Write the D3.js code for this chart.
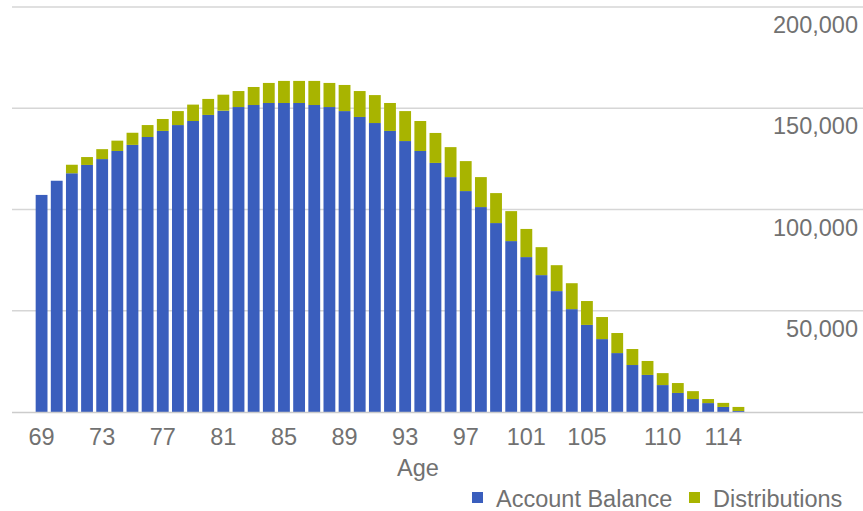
<!DOCTYPE html>
<html>
<head>
<meta charset="utf-8">
<script src="https://cdn.jsdelivr.net/npm/d3@7"></script>
<style>
  body { margin: 0; background: #fff; }
  text { font-family: "Liberation Sans", Arial, sans-serif; }
</style>
</head>
<body>
<div id="chart"></div>
<script>
var ages = d3.range(69, 116);
var balance = [107200, 114200, 117900, 122000, 124900, 128900, 131900, 135800, 138800, 141700,
  143700, 146700, 148800, 150600, 151600, 152600, 152600, 152600, 151600, 150600,
  148600, 145700, 142700, 138800, 133800, 128900, 123000, 116000, 109100, 101200,
  93300, 84400, 76500, 67600, 59700, 50800, 43000, 36000, 29100, 23200,
  18300, 13300, 9400, 6400, 4400, 2500, 500];
var distributions = [0, 0, 4200, 3900, 4900, 5100, 6000, 5900, 5900, 6900,
  8100, 7900, 7900, 7900, 8900, 9900, 10900, 10900, 11900, 11900,
  12900, 12800, 13800, 13800, 14800, 14800, 14800, 14800, 14800, 14800,
  14800, 14800, 13900, 13800, 12800, 12800, 11800, 10900, 9900, 7900,
  6900, 5900, 4900, 3900, 2000, 2000, 2000];
var xTicks = [69, 73, 77, 81, 85, 89, 93, 97, 101, 105, 110, 114];
var yTicks = [50000, 100000, 150000, 200000];
var seriesNames = ["Account Balance", "Distributions"];
var seriesColors = ["#3a5ebd", "#a8b400"];

var width = 863, height = 511;
var fontSize = "23.5px";

var svg = d3.select("#chart")
    .append("svg")
    .attr("width", width)
    .attr("height", height);

// stack the two series
var rows = ages.map(function(a, i) {
    return { age: a, "Account Balance": balance[i], "Distributions": distributions[i] };
});
var stacked = d3.stack().keys(seriesNames)(rows);

var x = d3.scaleBand()
    .domain(ages)
    .range([34, 746])
    .paddingInner(0.22)
    .paddingOuter(0.11);

var y = d3.scaleLinear()
    .domain([0, 200000])
    .range([412, 7]);

// gridlines + right side labels
var grid = svg.append("g");
grid.selectAll("line")
    .data(yTicks)
    .enter()
    .append("line")
    .attr("x1", 12)
    .attr("x2", width)
    .attr("y1", function(d) { return y(d); })
    .attr("y2", function(d) { return y(d); })
    .style("stroke", "#d6d6d6")
    .style("stroke-width", 1.6);

grid.selectAll("text")
    .data(yTicks)
    .enter()
    .append("text")
    .attr("x", 858)
    .attr("y", function(d) { return y(d) + 26; })
    .attr("text-anchor", "end")
    .attr("font-size", fontSize)
    .attr("fill", "#717171")
    .text(function(d) { return d3.format(",")(d); });

// bars
svg.append("g")
    .selectAll("g")
    .data(stacked)
    .enter()
    .append("g")
    .attr("fill", function(d, i) { return seriesColors[i]; })
    .selectAll("rect")
    .data(function(d) { return d; })
    .enter()
    .append("rect")
    .attr("x", function(d) { return x(d.data.age); })
    .attr("y", function(d) { return y(d[1]); })
    .attr("width", x.bandwidth())
    .attr("height", function(d) { return y(d[0]) - y(d[1]); });

// baseline
svg.append("line")
    .attr("x1", 12)
    .attr("x2", width)
    .attr("y1", y(0) + 0.5)
    .attr("y2", y(0) + 0.5)
    .style("stroke", "#cccccc")
    .style("stroke-width", 1.6);

// x tick labels
svg.append("g")
    .selectAll("text")
    .data(xTicks)
    .enter()
    .append("text")
    .attr("x", function(d) { return x(d) + x.bandwidth() / 2; })
    .attr("y", 445)
    .attr("text-anchor", "middle")
    .attr("font-size", fontSize)
    .attr("fill", "#717171")
    .text(function(d) { return d; });

// axis title
svg.append("text")
    .attr("x", 418)
    .attr("y", 476)
    .attr("text-anchor", "middle")
    .attr("font-size", fontSize)
    .attr("fill", "#717171")
    .text("Age");

// legend
var legendX = [472, 689];
var legend = svg.append("g")
    .selectAll("g")
    .data(seriesNames)
    .enter()
    .append("g")
    .attr("transform", function(d, i) { return "translate(" + legendX[i] + ",492)"; });

legend.append("rect")
    .attr("width", 11)
    .attr("height", 11)
    .attr("fill", function(d, i) { return seriesColors[i]; });

legend.append("text")
    .attr("x", 24)
    .attr("y", 15)
    .attr("font-size", fontSize)
    .attr("fill", "#717171")
    .text(function(d) { return d; });
</script>
</body>
</html>
